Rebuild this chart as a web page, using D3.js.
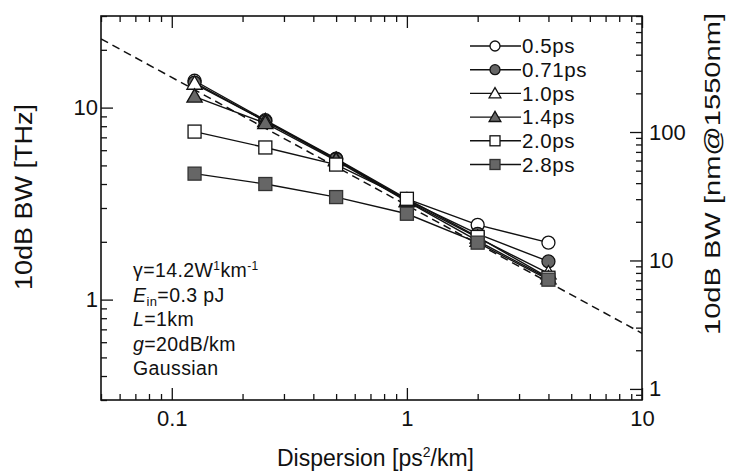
<!DOCTYPE html>
<html><head><meta charset="utf-8">
<script src="https://cdn.jsdelivr.net/npm/d3@7"></script>
<style>
body{margin:0;background:#fff;}
text{font-family:"Liberation Sans",Arial,Helvetica,sans-serif;fill:#111;}
</style></head>
<body>
<svg id="c" width="732" height="476"></svg>
<script>
// ---- data ----
const dispersion = [0.125, 0.25, 0.5, 1, 2, 4];
const seriesNames = ["0.5ps", "0.71ps", "1.0ps", "1.4ps", "2.0ps", "2.8ps"];
const bw05  = [13.8, 8.6, 5.42, 3.35, 2.45, 1.98];
const bw071 = [13.5, 8.5, 5.4, 3.3, 2.2, 1.58];
const bw10  = [13.3, 8.5, 5.35, 3.27, 2.1, 1.37];
const bw14  = [11.4, 8.3, 5.3, 3.25, 2.02, 1.29];
const bw20  = [7.5, 6.2, 5.05, 3.35, 2.12, 1.3];
const bw28  = [4.53, 4.0, 3.42, 2.8, 1.98, 1.27];
const seriesValues = [bw05, bw071, bw10, bw14, bw20, bw28];
const markerShapes = ["circle", "circle", "triangle", "triangle", "square", "square"];
const markerFilled = [false, true, false, true, false, true];
const fitX = [0.05, 10];
const fitY = [22.8, 0.668];
const xMajor = [0.1, 1, 10];
const xMajorLabels = ["0.1", "1", "10"];
const yMajor = [1, 10];
const yMajorLabels = ["1", "10"];
const yRMajor = [1, 10, 100];
const yRMajorLabels = ["1", "10", "100"];
const annotLines = [
  [{t:"γ=14.2W"},{t:"1",sup:true},{t:"km"},{t:"-1",sup:true}],
  [{t:"E",it:true},{t:"in",sub:true},{t:"=0.3 pJ"}],
  [{t:"L",it:true},{t:"=1km"}],
  [{t:"g",it:true},{t:"=20dB/km"}],
  [{t:"Gaussian"}]
];

// ---- layout ----
const L = 101, R = 642, T = 16, B = 400;
const svg = d3.select("#c");
const x = d3.scaleLog().domain([0.05, 10]).range([L, R]);
const y = d3.scaleLog().domain([0.3, 30]).range([B, T]);
const yR = d3.scaleLog().domain([0.82, 800]).range([B, T]);

function minors(scale, majors){
  return scale.ticks().filter(v => !majors.some(m => Math.abs(m - v) / m < 1e-6));
}
const tickFont = 22;
function styleAxis(g){
  g.select(".domain").remove();
  g.selectAll("line").attr("stroke", "#111").attr("stroke-width", 1.3);
  g.selectAll("text").style("font-size", tickFont + "px").attr("fill", "#111");
}
// bottom
svg.append("g").attr("transform", `translate(0,${B})`)
  .call(d3.axisBottom(x).tickValues(xMajor).tickFormat((d,i)=>xMajorLabels[i]).tickSize(-12).tickSizeOuter(0).tickPadding(10))
  .call(styleAxis);
svg.append("g").attr("transform", `translate(0,${B})`)
  .call(d3.axisBottom(x).tickValues(minors(x, xMajor)).tickFormat("").tickSize(-6).tickSizeOuter(0))
  .call(styleAxis);
// top
svg.append("g").attr("transform", `translate(0,${T})`)
  .call(d3.axisTop(x).tickValues(xMajor).tickFormat("").tickSize(-12).tickSizeOuter(0))
  .call(styleAxis);
svg.append("g").attr("transform", `translate(0,${T})`)
  .call(d3.axisTop(x).tickValues(minors(x, xMajor)).tickFormat("").tickSize(-6).tickSizeOuter(0))
  .call(styleAxis);
// left
svg.append("g").attr("transform", `translate(${L},0)`)
  .call(d3.axisLeft(y).tickValues(yMajor).tickFormat((d,i)=>yMajorLabels[i]).tickSize(-12).tickSizeOuter(0).tickPadding(3))
  .call(styleAxis);
svg.append("g").attr("transform", `translate(${L},0)`)
  .call(d3.axisLeft(y).tickValues(minors(y, yMajor)).tickFormat("").tickSize(-6).tickSizeOuter(0))
  .call(styleAxis);
// right
svg.append("g").attr("transform", `translate(${R},0)`)
  .call(d3.axisRight(yR).tickValues(yRMajor).tickFormat((d,i)=>yRMajorLabels[i]).tickSize(-12).tickSizeOuter(0).tickPadding(7))
  .call(styleAxis);
svg.append("g").attr("transform", `translate(${R},0)`)
  .call(d3.axisRight(yR).tickValues(minors(yR, yRMajor)).tickFormat("").tickSize(-6).tickSizeOuter(0))
  .call(styleAxis);
// frame
svg.append("rect").attr("x", L).attr("y", T).attr("width", R - L).attr("height", B - T)
  .attr("fill", "none").attr("stroke", "#111").attr("stroke-width", 1.6);

// axis titles
svg.append("text").attr("x", (L + R) / 2 + 4).attr("y", 466).attr("text-anchor", "middle")
  .style("font-size", "23px")
  .call(t => { t.append("tspan").text("Dispersion [ps");
               t.append("tspan").attr("dy", -9).style("font-size", "14px").text("2");
               t.append("tspan").attr("dy", 9).text("/km]"); });
svg.append("text").attr("transform", "translate(32,197) rotate(-90)").attr("text-anchor", "middle")
  .style("font-size", "23px").attr("textLength", 186).attr("lengthAdjust", "spacingAndGlyphs")
  .text("10dB BW [THz]");
svg.append("text").attr("transform", "translate(720,174) rotate(-90)").attr("text-anchor", "middle")
  .style("font-size", "22px").attr("textLength", 322).attr("lengthAdjust", "spacingAndGlyphs")
  .text("10dB BW [nm@1550nm]");

// fit line
svg.append("clipPath").attr("id", "pc").append("rect")
  .attr("x", L).attr("y", T).attr("width", R - L).attr("height", B - T);
const line = d3.line().x(d => x(d[0])).y(d => y(d[1]));
svg.append("path").attr("clip-path", "url(#pc)")
  .attr("d", line(d3.zip(fitX, fitY)))
  .attr("fill", "none").attr("stroke", "#111").attr("stroke-width", 1.5).attr("stroke-dasharray", "8,5");

// markers
const greyFill = "#666";
function drawMarker(g, shape, filled, cx, cy, s){
  const fill = filled ? greyFill : "#fff";
  if (shape === "circle") {
    g.append("circle").attr("cx", cx).attr("cy", cy).attr("r", s / 2)
      .attr("fill", fill).attr("stroke", "#111").attr("stroke-width", 1.3);
  } else if (shape === "square") {
    g.append("rect").attr("x", cx - s / 2).attr("y", cy - s / 2).attr("width", s).attr("height", s)
      .attr("fill", fill).attr("stroke", filled ? "#333" : "#111").attr("stroke-width", 1.3);
  } else {
    const sym = d3.symbol().type(d3.symbolTriangle).size(s * s * 0.6);
    g.append("path").attr("transform", `translate(${cx},${cy + 1})`).attr("d", sym())
      .attr("fill", fill).attr("stroke", "#111").attr("stroke-width", 1.3);
  }
}

// series
seriesValues.forEach((vals, i) => {
  const g = svg.append("g");
  g.append("path").attr("d", line(d3.zip(dispersion, vals)))
    .attr("fill", "none").attr("stroke", "#111").attr("stroke-width", 1.4);
  dispersion.forEach((d, j) => drawMarker(g, markerShapes[i], markerFilled[i], x(d), y(vals[j]), 13));
});

// legend
const legY0 = 46, legDy = 23.7;
seriesNames.forEach((nm, i) => {
  const g = svg.append("g").attr("transform", `translate(0,${legY0 + i * legDy})`);
  g.append("line").attr("x1", 470).attr("x2", 521).attr("y1", 0).attr("y2", 0)
    .attr("stroke", "#111").attr("stroke-width", 1.4);
  drawMarker(g, markerShapes[i], markerFilled[i], 495, 0, 10);
  g.append("text").attr("x", 522).attr("y", 0).attr("dy", "0.36em")
    .style("font-size", "20.5px").style("letter-spacing", "0.6px").text(nm);
});

// annotation
annotLines.forEach((parts, i) => {
  const t = svg.append("text").attr("x", 133).attr("y", 277 + i * 24.5).style("font-size", "19.5px")
    .style("letter-spacing", "0.4px");
  let shift = 0;
  parts.forEach(p => {
    const sp = t.append("tspan").text(p.t);
    let target = 0;
    if (p.sup) { target = -7; sp.style("font-size", "12px"); }
    if (p.sub) { target = 4; sp.style("font-size", "13px"); }
    if (p.it) sp.style("font-style", "italic");
    if (target !== shift) { sp.attr("dy", target - shift); shift = target; }
  });
});
</script>
</body></html>
